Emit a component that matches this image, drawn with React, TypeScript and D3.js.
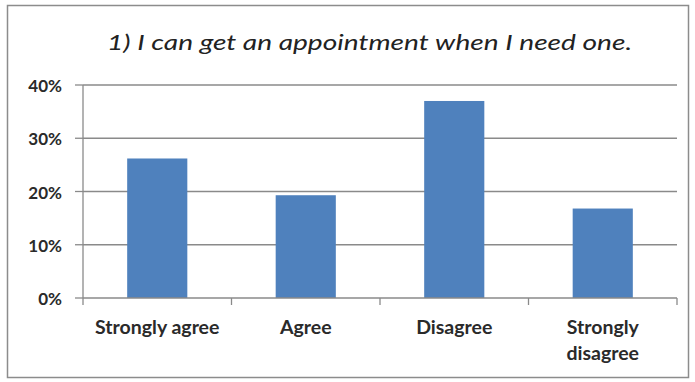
import React from "react";
import * as d3 from "d3";

const categories: string[][] = [["Strongly agree"], ["Agree"], ["Disagree"], ["Strongly", "disagree"]];
const values: number[] = [0.262, 0.193, 0.37, 0.168];
const yTicks: number[] = [0, 0.1, 0.2, 0.3, 0.4];
const title = "1) I can get an appointment when I need one.";

export default function App() {
  const W = 695, H = 382;
  const left = 83, right = 677, top = 85, bottom = 298;
  const x = d3.scaleBand<number>().domain(d3.range(categories.length)).range([left, right]).paddingInner(0.595).paddingOuter(0.2975);
  const xb = d3.scaleBand<number>().domain(d3.range(categories.length)).range([left, right]);
  const y = d3.scaleLinear().domain([0, 0.4]).range([bottom, top]);
  const fmt = d3.format(".0%");
  const font = "Lato, 'Open Sans', sans-serif";
  return (
    <svg width={W} height={H} style={{ position: "absolute", left: 0, top: 0, background: "#fff" }}>
      <rect x={7.5} y={5.5} width={681} height={372} fill="#fff" stroke="#8c8c8c" strokeWidth={1.5} />
      <text x={369.5} y={50} textAnchor="middle" fontFamily={font} fontStyle="italic" fontSize={22} textLength={525} lengthAdjust="spacingAndGlyphs" fill="#222">{title}</text>
      {yTicks.map((t) => (
        <g key={t}>
          {t > 0 && <line x1={left} x2={right} y1={y(t)} y2={y(t)} stroke="#8a8a8a" strokeWidth={1.3} />}
          <line x1={left - 8} x2={left} y1={y(t)} y2={y(t)} stroke="#8a8a8a" strokeWidth={1.3} />
          <text x={62} y={y(t) + 7} textAnchor="end" fontFamily={font} fontWeight="bold" fontSize={17} fill="#2a2a2a">{fmt(t)}</text>
        </g>
      ))}
      {values.map((v, i) => (
        <rect key={i} x={x(i)} y={y(v)} width={x.bandwidth()} height={bottom - y(v)} fill="#4f81bd" />
      ))}
      <line x1={left} x2={left} y1={top} y2={bottom} stroke="#8a8a8a" strokeWidth={1.3} />
      <line x1={left} x2={right} y1={bottom} y2={bottom} stroke="#8a8a8a" strokeWidth={1.3} />
      {d3.range(categories.length + 1).map((i) => {
        const px = left + i * xb.step();
        return <line key={i} x1={px} x2={px} y1={bottom} y2={bottom + 7} stroke="#8a8a8a" strokeWidth={1.3} />;
      })}
      {categories.map((lines, i) => (
        <text key={i} textAnchor="middle" fontFamily={font} fontWeight="bold" fontSize={19.5} fill="#2a2a2a">
          {lines.map((l, j) => (
            <tspan key={j} x={(xb(i) as number) + xb.bandwidth() / 2} y={334 + j * 26}>{l}</tspan>
          ))}
        </text>
      ))}
    </svg>
  );
}
